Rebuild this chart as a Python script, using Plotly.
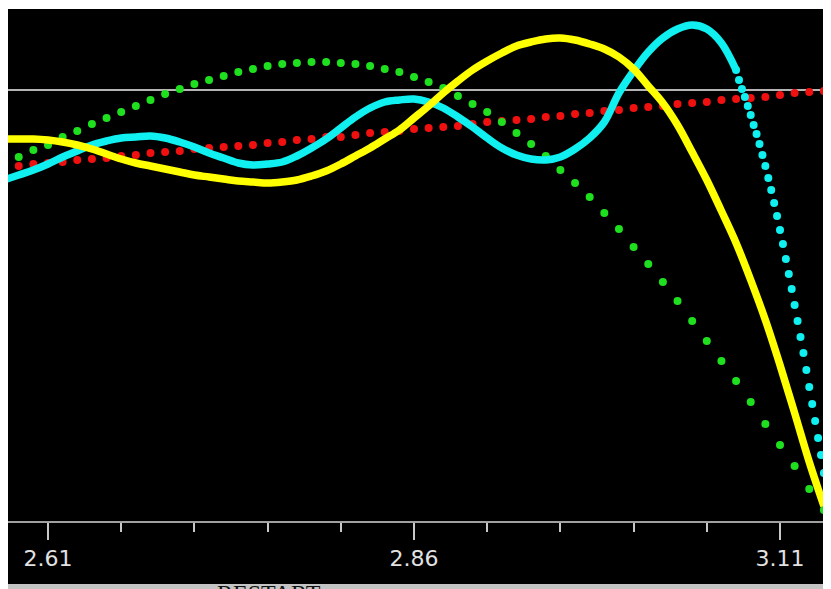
import plotly.graph_objects as go

# ---- data -------------------------------------------------------------
X_COARSE = [2.58, 2.59, 2.60, 2.61, 2.62, 2.63, 2.64, 2.65, 2.66, 2.67,
            2.68, 2.69, 2.70, 2.71, 2.72, 2.73, 2.74, 2.75, 2.76, 2.77,
            2.78, 2.79, 2.80, 2.81, 2.82, 2.83, 2.84, 2.85, 2.86, 2.87,
            2.88, 2.89, 2.90, 2.91, 2.92, 2.93, 2.94, 2.95, 2.96, 2.97,
            2.98, 2.99, 3.00, 3.01, 3.02, 3.03, 3.04, 3.05, 3.06, 3.07,
            3.08, 3.09, 3.10, 3.11, 3.12, 3.13, 3.14]

RED_Y = [3.53, 3.55, 3.57, 3.58, 3.59, 3.61, 3.62, 3.63, 3.65, 3.66,
         3.68, 3.69, 3.70, 3.72, 3.73, 3.74, 3.75, 3.76, 3.78, 3.79,
         3.81, 3.82, 3.84, 3.84, 3.86, 3.88, 3.89, 3.90, 3.92, 3.93,
         3.94, 3.95, 3.97, 3.99, 4.00, 4.01, 4.02, 4.04, 4.05, 4.07,
         4.08, 4.10, 4.11, 4.13, 4.14, 4.15, 4.17, 4.18, 4.19, 4.21,
         4.22, 4.23, 4.24, 4.26, 4.28, 4.29, 4.30]

GREEN_Y = [3.58, 3.64, 3.71, 3.76, 3.84, 3.90, 3.97, 4.03, 4.09, 4.15,
           4.21, 4.27, 4.32, 4.37, 4.41, 4.45, 4.49, 4.52, 4.55, 4.57,
           4.58, 4.59, 4.59, 4.58, 4.57, 4.55, 4.52, 4.49, 4.44, 4.39,
           4.33, 4.25, 4.17, 4.09, 3.99, 3.88, 3.77, 3.65, 3.51, 3.38,
           3.24, 3.08, 2.92, 2.74, 2.57, 2.39, 2.20, 2.00, 1.80, 1.60,
           1.40, 1.19, 0.97, 0.76, 0.55, 0.32, 0.11]

YELLOW_Y = [3.82, 3.82, 3.82, 3.81, 3.79, 3.76, 3.72, 3.67, 3.62, 3.58,
            3.55, 3.52, 3.49, 3.46, 3.44, 3.42, 3.40, 3.39, 3.38, 3.39,
            3.41, 3.45, 3.50, 3.57, 3.65, 3.73, 3.82, 3.91, 4.03, 4.15,
            4.28, 4.40, 4.51, 4.60, 4.68, 4.75, 4.79, 4.82, 4.83, 4.81,
            4.77, 4.72, 4.64, 4.52, 4.35, 4.18, 3.96, 3.69, 3.41, 3.10,
            2.78, 2.41, 2.01, 1.56, 1.08, 0.59, 0.15]

CYAN_X = X_COARSE[:51]
CYAN_Y = [3.41, 3.46, 3.51, 3.57, 3.64, 3.70, 3.76, 3.80, 3.83, 3.84,
          3.85, 3.83, 3.79, 3.74, 3.68, 3.63, 3.58, 3.56, 3.57, 3.59,
          3.65, 3.73, 3.82, 3.93, 4.04, 4.13, 4.19, 4.21, 4.22, 4.19,
          4.13, 4.04, 3.94, 3.83, 3.73, 3.66, 3.62, 3.61, 3.64, 3.72,
          3.83, 3.99, 4.28, 4.50, 4.69, 4.83, 4.92, 4.96, 4.92, 4.78,
          4.51]

CYAN_TAIL_X = [3.080, 3.082, 3.084, 3.086, 3.088, 3.090, 3.092, 3.094, 3.096, 3.098,
               3.100, 3.102, 3.104, 3.106, 3.108, 3.110, 3.112, 3.114, 3.116, 3.118,
               3.120, 3.122, 3.124, 3.126, 3.128, 3.130, 3.132, 3.134, 3.136, 3.138,
               3.140, 3.142, 3.144]
CYAN_TAIL_Y = [4.51, 4.41, 4.32, 4.24, 4.15, 4.06, 3.96, 3.87, 3.77, 3.66,
               3.55, 3.43, 3.31, 3.18, 3.05, 2.91, 2.77, 2.62, 2.47, 2.32,
               2.16, 2.00, 1.84, 1.68, 1.51, 1.34, 1.17, 1.00, 0.83, 0.66,
               0.48, 0.31, 0.13]

REF_LEVEL = 4.31

TICK_VALS = [2.61, 2.86, 3.11]
TICK_TEXT = ["2.61", "2.86", "3.11"]
MINOR_VALS = [2.66, 2.71, 2.76, 2.81, 2.91, 2.96, 3.01, 3.06]

X_RANGE = [2.58268, 3.13937]
Y_RANGE = [0, 5.12]

BUTTON_TEXT = "RESTART"

# ---- figure -------------------------------------------------------------
fig = go.Figure()

fig.add_trace(go.Scatter(x=X_COARSE, y=RED_Y, mode="markers",
                         marker=dict(color="#f01010", size=8), hoverinfo="skip"))
fig.add_trace(go.Scatter(x=X_COARSE, y=GREEN_Y, mode="markers",
                         marker=dict(color="#1fe01f", size=8), hoverinfo="skip"))
fig.add_trace(go.Scatter(x=CYAN_X, y=CYAN_Y, mode="lines",
                         line=dict(color="#10f0f0", width=7.5, shape="spline", smoothing=1.0),
                         hoverinfo="skip"))
fig.add_trace(go.Scatter(x=CYAN_TAIL_X, y=CYAN_TAIL_Y, mode="markers",
                         marker=dict(color="#10f0f0", size=8), hoverinfo="skip"))
fig.add_trace(go.Scatter(x=X_COARSE, y=YELLOW_Y, mode="lines",
                         line=dict(color="#ffff00", width=7.5, shape="spline", smoothing=1.0),
                         hoverinfo="skip"))

PLOT_H = 512.0
W = 815
fig.update_layout(
    width=W, height=581,
    margin=dict(l=0, r=0, t=1, b=68, pad=0),
    paper_bgcolor="white",
    plot_bgcolor="black",
    showlegend=False,
    xaxis=dict(
        range=X_RANGE, showgrid=False, zeroline=False,
        showline=True, linecolor="#a0a0a0", linewidth=2,
        tickmode="array", tickvals=TICK_VALS, ticktext=TICK_TEXT,
        ticks="outside", ticklen=17, tickwidth=1.5, tickcolor="#c8c8c8",
        tickfont=dict(family="DejaVu Sans", size=22, color="#e2e2e2"),
        minor=dict(tickmode="array", tickvals=MINOR_VALS, ticks="outside",
                   ticklen=9, tickwidth=1.5, tickcolor="#c8c8c8", showgrid=False),
    ),
    yaxis=dict(range=Y_RANGE, visible=False, showgrid=False, zeroline=False),
    shapes=[
        dict(type="rect", xref="paper", yref="paper", x0=0, x1=1,
             y0=-63 / PLOT_H, y1=0, fillcolor="black", line=dict(width=0), layer="below"),
        dict(type="rect", xref="paper", yref="paper", x0=0, x1=1,
             y0=-70 / PLOT_H, y1=-63 / PLOT_H, fillcolor="#c4c4c4", line=dict(width=0), layer="below"),
        dict(type="line", xref="paper", yref="y", x0=0, x1=1, y0=REF_LEVEL, y1=REF_LEVEL,
             line=dict(color="#b4b4b4", width=2), layer="below"),
    ],
    annotations=[
        dict(text=BUTTON_TEXT, xref="paper", yref="paper", x=261 / W,
             y=-57 / PLOT_H, yanchor="top", xanchor="center", showarrow=False,
             font=dict(family="Liberation Serif", size=24, color="#111111")),
    ],
)

fig.write_html("out.html")
